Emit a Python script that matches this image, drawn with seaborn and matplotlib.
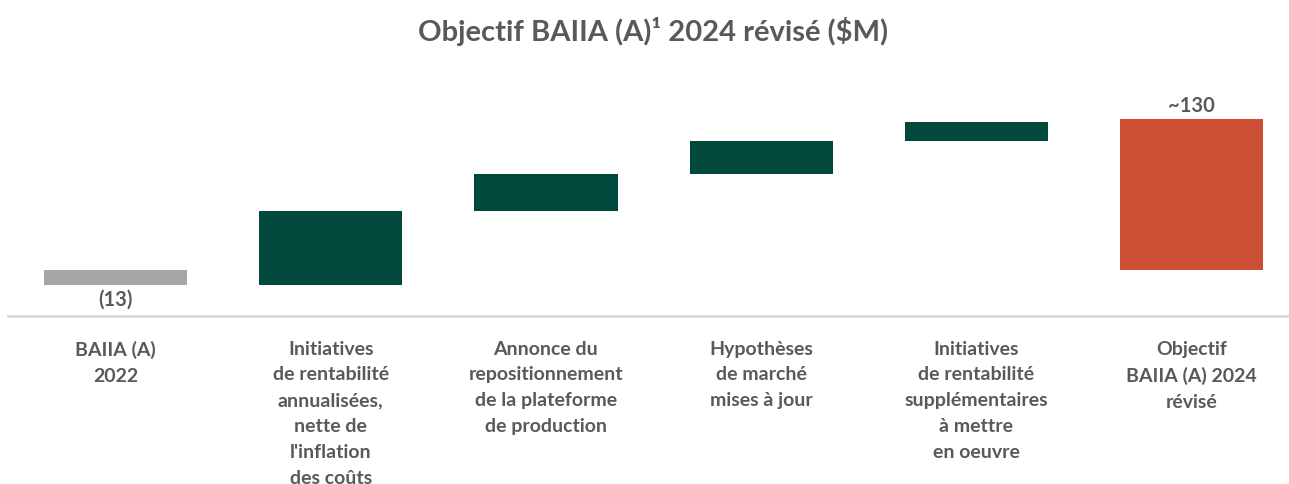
import numpy as np
import pandas as pd
import matplotlib
matplotlib.use("Agg")
import matplotlib.pyplot as plt
import seaborn as sns

# Bridge categories (x axis)
categories = [
    "BAIIA (A)\n2022",
    "Initiatives\nde rentabilité\nannualisées,\nnette de\nl'inflation\ndes coûts",
    "Annonce du\nrepositionnement\nde la plateforme\nde production",
    "Hypothèses\nde marché\nmises à jour",
    "Initiatives\nde rentabilité\nsupplémentaires\nà mettre\nen oeuvre",
    "Objectif\nBAIIA (A) 2024\nrévisé",
]
# 2022 starting value followed by the step changes ($M)
steps = [-13, 64, 32, 28, 16]
# Revised 2024 target ($M)
target = 130
value_labels = ["(13)", "~130"]

GREY = "#a6a6a6"
GREEN = "#02493d"
RED = "#cc4f35"
TEXT = "#595959"

running = np.cumsum(steps)
bottoms = np.concatenate([[0], running[:-1], [0]])
heights = np.array(steps + [target], dtype=float)
colors = [GREY] + [GREEN] * (len(steps) - 1) + [RED]

df = pd.DataFrame({"cat": categories, "height": heights})

sns.set_theme(style="white")
plt.rcParams["font.family"] = ["Lato", "DejaVu Sans"]

fig = plt.figure(figsize=(12.89, 4.85), dpi=100)
ax = fig.add_axes([8 / 1289, 168 / 485, 1 - 8 / 1289, (317 - 85) / 485])

sns.barplot(data=df, x="cat", y="height", order=categories, bottom=bottoms,
            color=GREEN, saturation=1, width=0.665, errorbar=None, ax=ax,
            linewidth=0)
for patch, c in zip(ax.patches, colors):
    patch.set_facecolor(c)
    patch.set_edgecolor("none")

ax.set_xlim(-0.5, 5.453)
ax.set_ylim(-39.4, 160)

for side in ["top", "right", "left"]:
    ax.spines[side].set_visible(False)
ax.spines["bottom"].set_color("#d9d9d9")
ax.spines["bottom"].set_linewidth(2)
ax.set_yticks([])
ax.set_xlabel("")
ax.set_ylabel("")
ax.tick_params(axis="x", length=0, pad=17)
ax.set_xticks(range(len(categories)))
ax.set_xticklabels(categories, fontsize=14, fontweight="bold", color=TEXT,
                   linespacing=1.63)

# Value labels
ax.text(0, steps[0] - 3, value_labels[0], ha="center", va="top",
        fontsize=14.5, fontweight="bold", color=TEXT)
ax.text(5, target + 3, value_labels[1], ha="center", va="bottom",
        fontsize=14.5, fontweight="bold", color=TEXT)

fig.text(653 / 1289, 1 - 31 / 485, "Objectif BAIIA (A)¹ 2024 révisé ($M)",
         ha="center", va="center", fontsize=21, fontweight="bold", color=TEXT)

fig.savefig("out.png", dpi=100, facecolor="white")
